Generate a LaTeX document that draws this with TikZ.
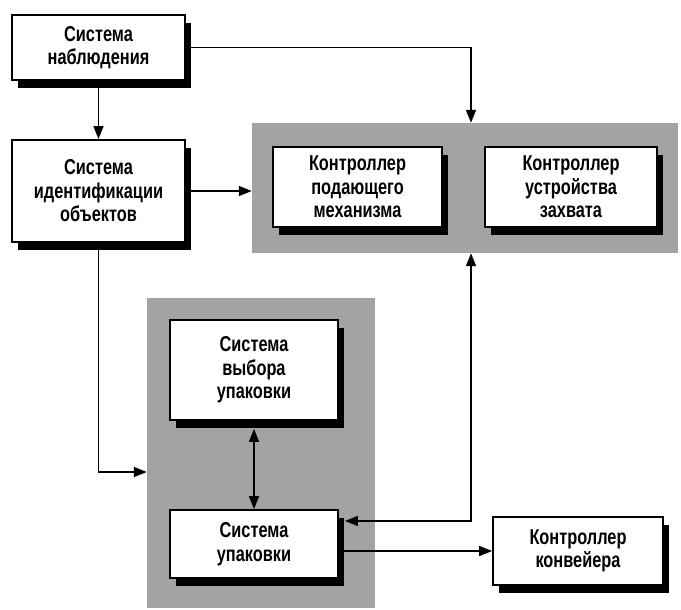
\documentclass[tikz,border=0pt]{standalone}
\usepackage{fontspec}
\setmainfont{Liberation Sans}
\newfontfamily\boxfont[FakeStretch=0.76]{Liberation Sans}
\usetikzlibrary{arrows.meta,shadows,calc}
\begin{document}
\begin{tikzpicture}[x=1pt,y=-1pt,
  box/.style={draw=black,line width=1.8pt,fill=white,align=center,inner sep=0pt,
    font=\boxfont\fontsize{21.5}{23.5}\selectfont\bfseries,
    drop shadow={shadow xshift=6pt,shadow yshift=-8pt,fill=black,opacity=1}},
  area/.style={fill=black!36,draw=none,inner sep=0pt},
  conn/.style={line width=1.5pt,-{Triangle[length=13pt,width=10pt]}},
  dconn/.style={line width=1.5pt,{Triangle[length=13pt,width=10pt]}-{Triangle[length=13pt,width=10pt]}}]
\useasboundingbox (0,0) rectangle (681,610);
% grey areas
\node[area,minimum width=426pt,minimum height=130pt] (g1) at (465,188) {};
\node[area,minimum width=228pt,minimum height=310pt] (g2) at (261,453) {};
% boxes
\node[box,minimum width=173pt,minimum height=65pt] (b1) at (98.5,47.5) {Система\\наблюдения};
\node[box,minimum width=173pt,minimum height=102pt] (b2) at (98.5,191) {Система\\идентификации\\объектов};
\node[box,minimum width=169pt,minimum height=80pt] (kp) at (357.5,187) {Контроллер\\подающего\\механизма};
\node[box,minimum width=172pt,minimum height=80pt] (kz) at (571,187) {Контроллер\\устройства\\захвата};
\node[box,minimum width=168pt,minimum height=100pt] (sv) at (254,370) {Система\\выбора\\упаковки};
\node[box,minimum width=168pt,minimum height=68pt] (su) at (254,544) {Система\\упаковки};
\node[box,minimum width=170pt,minimum height=68pt] (kk) at (578,551) {Контроллер\\конвейера};
% helper coordinates
\coordinate (tx) at (471,0);
\coordinate (jy) at (0,472);
\coordinate (ry) at (0,521);
% connectors
\draw[conn] (b1.south) -- (b2.north);
\draw[conn] (b1.east) -| (tx |- g1.north);
\draw[conn] (b2.east) -- (b2.east -| g1.west);
\draw[conn] (b2.south) |- (g2.west |- jy);
\draw[dconn] ([yshift=-8pt]sv.south) -- (su.north);
\draw[conn] (su.east |- kk.west) -- (kk.west);
\draw[dconn] (tx |- g1.south) |- ([xshift=6pt]su.east |- ry);
\end{tikzpicture}
\end{document}
